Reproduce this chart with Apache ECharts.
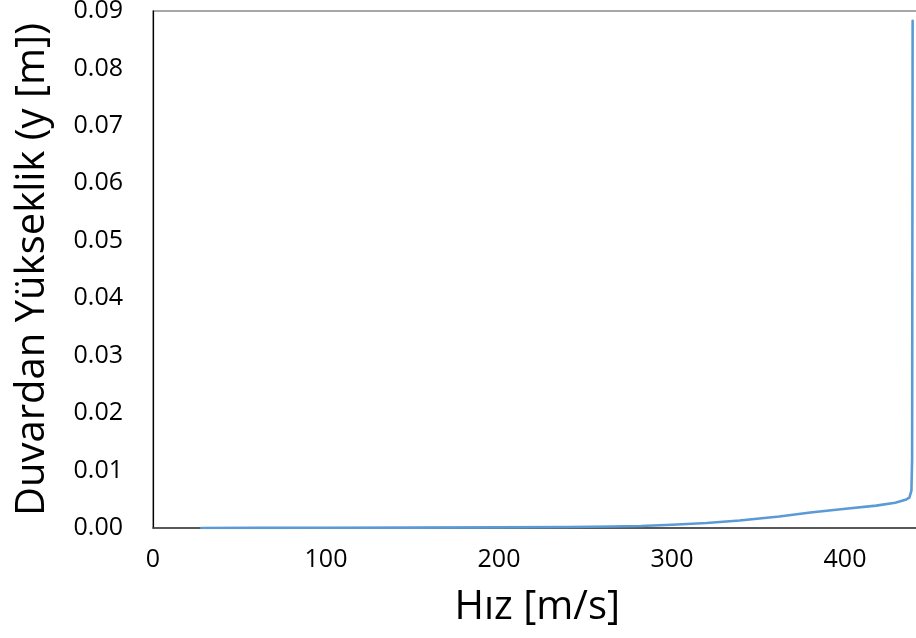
<!DOCTYPE html>
<html>
<head>
<meta charset="utf-8">
<script src="https://cdn.jsdelivr.net/npm/echarts@6/dist/echarts.min.js"></script>
<style>
  html, body { margin: 0; padding: 0; background: #fff; }
  #chart { width: 916px; height: 638px; }
</style>
</head>
<body>
<div id="chart"></div>
<script>
// Velocity profile near the wall: speed (m/s) against distance from the wall (m)
const speed = [28, 60, 100, 150, 200, 240, 265, 282, 300, 320, 339, 362, 380, 399, 418, 429, 435, 437.2, 438.4, 438.8, 439.1];
const height = [0, 0.00002, 0.00004, 0.00007, 0.00011, 0.00018, 0.00026, 0.00035, 0.00057, 0.00087, 0.0013, 0.0020, 0.0027, 0.0033, 0.0039, 0.0044, 0.0049, 0.0053, 0.0065, 0.012, 0.0883];

const xTicks = [0, 100, 200, 300, 400];
const yTicks = [0, 0.01, 0.02, 0.03, 0.04, 0.05, 0.06, 0.07, 0.08, 0.09];

const points = speed.map((u, i) => [u, height[i]]);
const font = '"Open Sans", "Noto Sans", sans-serif';

const chart = echarts.init(document.getElementById('chart'), null, { renderer: 'canvas' });
chart.setOption({
  animation: false,
  backgroundColor: '#ffffff',
  grid: {
    left: 153, top: 11, width: 778.5, height: 517,
    show: true, borderColor: '#8a8a8a', borderWidth: 1.5,
    containLabel: false,
    outerBoundsMode: 'none'
  },
  xAxis: {
    type: 'value',
    min: 0, max: 450, interval: 100,
    name: 'Hız [m/s]',
    nameLocation: 'middle',
    nameGap: 60,
    nameTextStyle: { fontFamily: font, fontSize: 40, color: '#000', padding: [0, 10, 0, 0] },
    axisLine: { show: true, onZero: false, lineStyle: { color: '#404040', width: 1.5 } },
    axisTick: { show: false },
    splitLine: { show: false },
    axisLabel: {
      fontFamily: font, fontSize: 25, color: '#000', margin: 19,
      formatter: v => xTicks.includes(v) ? String(v) : ''
    }
  },
  yAxis: {
    type: 'value',
    min: 0, max: 0.09, interval: 0.01,
    name: 'Duvardan Yükseklik (y [m])',
    nameLocation: 'middle',
    nameGap: 100,
    nameTextStyle: { fontFamily: font, fontSize: 40, color: '#000' },
    axisLine: { show: true, onZero: false, lineStyle: { color: '#000', width: 1.2 } },
    axisTick: { show: false },
    splitLine: { show: false },
    axisLabel: {
      fontFamily: font, fontSize: 25, color: '#000', margin: 30,
      formatter: v => {
        const t = yTicks.find(k => Math.abs(k - v) < 1e-9);
        return t === undefined ? '' : t.toFixed(2);
      }
    }
  },
  series: [{
    type: 'line',
    data: points,
    showSymbol: false,
    smooth: false,
    lineStyle: { color: '#5b9bd5', width: 2.6, join: 'round', cap: 'round' },
    clip: true
  }]
});
</script>
</body>
</html>
